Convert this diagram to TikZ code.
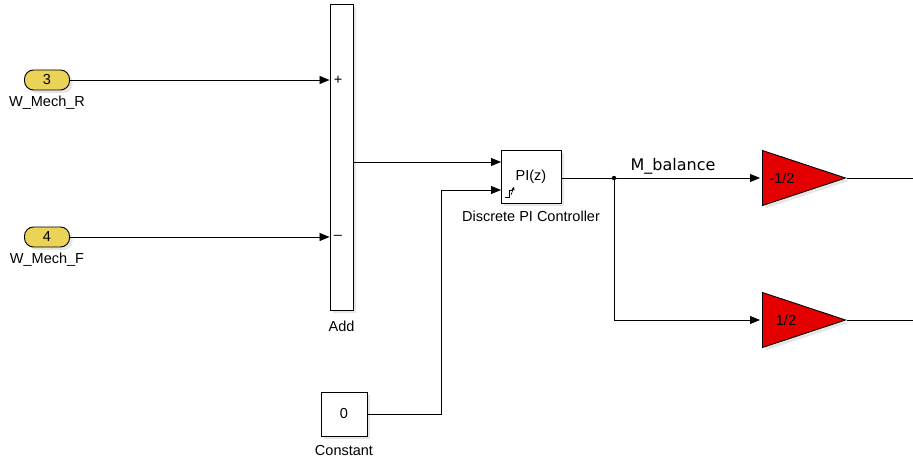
\documentclass[tikz,border=0pt]{standalone}
\usepackage{fontspec}
\setmainfont{Liberation Sans}
\newfontfamily\sigfont{DejaVu Sans}
\usetikzlibrary{arrows.meta,shapes.geometric,shadows}
\definecolor{portyellow}{RGB}{234,211,86}
\definecolor{gainred}{RGB}{228,0,0}
\tikzset{
  blk/.style={draw,line width=0.9pt,fill=white,inner sep=0pt,
    drop shadow={shadow xshift=3pt,shadow yshift=-3pt,opacity=0.2}},
  inport/.style={blk,fill=portyellow,rounded corners=9pt,minimum width=45pt,minimum height=20pt},
  gain/.style={blk,fill=gainred,isosceles triangle,isosceles triangle stretches,
    minimum width=55pt,minimum height=83pt,inner sep=0pt,anchor=west},
  txt/.style={font=\fontsize{14.5}{17}\selectfont},
  sig/.style={line width=0.8pt},
  sigarr/.style={sig,-{Triangle[length=10pt,width=8pt]}}
}
\begin{document}
\begin{tikzpicture}[x=1pt,y=-1pt]
\useasboundingbox (0,0) rectangle (913,462);
% inports
\node[inport,txt] (in3) at (47,80) {3};
\node[txt] (in3lbl) at (47,103) {W\_Mech\_R};
\node[inport,txt] (in4) at (47,237) {4};
\node[txt] (in4lbl) at (47,260) {W\_Mech\_F};
% sum block
\node[blk,minimum width=23pt,minimum height=306pt] (add) at (341.5,157) {};
\node[txt] (addlbl) at (341.5,326) {Add};
\node[txt,inner sep=0pt] (plus) at (338,80) {+};
\node[txt,inner sep=0pt] (minus) at (338,237) {--};
% controller
\node[blk,minimum width=60pt,minimum height=53pt] (pi) at (531,176.5) {};
\node[txt] (pitxt) at (531,177) {PI(z)};
\node[txt] (pilbl) at (531,216) {Discrete PI Controller};
\draw[line width=0.7pt] (505,197) -- (509,197) -- (509,190) -- (513,190);
\draw[line width=0.6pt,-{Triangle[length=3pt,width=3pt]}] (511,195) -- (514,187);
% constant
\node[blk,minimum width=46pt,minimum height=44pt,txt] (const) at (344,414) {0};
\node[txt] (constlbl) at (344,451) {Constant};
% gains
\node[gain] (gneg) at (762,178) {};
\node[txt] (gnegtxt) at (782,178) {-1/2};
\node[gain] (gpos) at (762,320) {};
\node[txt] (gpostxt) at (786,320) {1/2};
% wiring
\coordinate (pi1) at (501,162);
\coordinate (pi2) at (501,190);
\coordinate (split) at (614,178);
\coordinate (outneg) at (913,178);
\coordinate (outpos) at (913,320);
\draw[sigarr] (in3.east) -- (in3.east -| add.west);
\draw[sigarr] (in4.east) -- (in4.east -| add.west);
\draw[sigarr] (add.east |- pi1) -- (pi1);
\draw[sigarr] (const.east) -- (441,414) -- (441,190) -- (pi2);
\draw[sigarr,shorten >=2pt] (pi.east |- split) -- (gneg.west);
\draw[sigarr,shorten >=2pt] (split) |- (gpos.west);
\fill (split) circle (2.2pt);
\node[font=\sigfont\fontsize{16}{18}\selectfont] (mbal) at (673,166) {M\_balance};
\draw[sig] (gneg.apex) -- (outneg);
\draw[sig] (gpos.apex) -- (outpos);
\end{tikzpicture}
\end{document}
